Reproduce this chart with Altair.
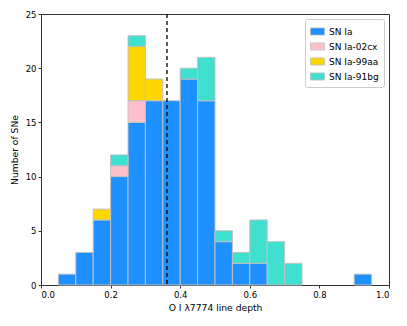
import altair as alt
import pandas as pd

bin_starts = [0.05, 0.10, 0.15, 0.20, 0.25, 0.30, 0.35, 0.40, 0.45, 0.50, 0.55, 0.60, 0.65, 0.70, 0.75, 0.80, 0.85, 0.90]
bin_width = 0.05
types = ["SN Ia", "SN Ia-02cx", "SN Ia-99aa", "SN Ia-91bg"]
colors = ["#1E90FF", "#FFC0CB", "#FFD700", "#40E0D0"]
counts_ia   = [1, 3, 6, 10, 15, 17, 17, 19, 17, 4, 2, 2, 0, 0, 0, 0, 0, 1]
counts_02cx = [0, 0, 0, 1, 2, 0, 0, 0, 0, 0, 0, 0, 0, 0, 0, 0, 0, 0]
counts_99aa = [0, 0, 1, 0, 5, 2, 0, 0, 0, 0, 0, 0, 0, 0, 0, 0, 0, 0]
counts_91bg = [0, 0, 0, 1, 1, 0, 0, 1, 4, 1, 1, 4, 4, 2, 0, 0, 0, 0]
median_depth = 0.362

rows = []
for t_i, (t, cnts) in enumerate(zip(types, [counts_ia, counts_02cx, counts_99aa, counts_91bg])):
    for s, c in zip(bin_starts, cnts):
        if c > 0:
            rows.append({"start": s, "end": round(s + bin_width, 3), "type": t, "count": c, "order": t_i})
df = pd.DataFrame(rows)

font = "DejaVu Sans"

bars = alt.Chart(df).transform_stack(
    stack="count", groupby=["start"], as_=["y0", "y1"],
    sort=[alt.SortField("order", order="ascending")],
).mark_bar(stroke="#c0c0c0", strokeWidth=1).encode(
    x=alt.X("start:Q", scale=alt.Scale(domain=[0, 1.0], nice=False),
            axis=alt.Axis(values=[0, 0.2, 0.4, 0.6, 0.8, 1.0], format=".1f",
                          title="O I λ7774 line depth", titlePadding=5)),
    x2="end:Q",
    y=alt.Y("y0:Q", scale=alt.Scale(domain=[0, 25], nice=False),
            axis=alt.Axis(values=[0, 5, 10, 15, 20, 25], title="Number of SNe", titlePadding=6)),
    y2="y1:Q",
    color=alt.Color("type:N", scale=alt.Scale(domain=types, range=colors),
                    legend=alt.Legend(title=None, orient="top-right",
                                      symbolType="M-1,-0.5L1,-0.5L1,0.5L-1,0.5Z",
                                      symbolSize=200, symbolStrokeColor="#c0c0c0", symbolStrokeWidth=0.8,
                                      fillColor="white", strokeColor="#cccccc", cornerRadius=2,
                                      padding=5, offset=5, labelFontSize=9, labelFont=font,
                                      rowPadding=2, labelColor="black")),
)

rule = alt.Chart(pd.DataFrame({"x": [median_depth]})).mark_rule(
    color="black", strokeDash=[4, 3], strokeWidth=1.3
).encode(x="x:Q")

chart = alt.layer(bars, rule).properties(
    width=348, height=271,
    autosize=alt.AutoSizeParams(type="none"),
    padding={"left": 33, "top": 6, "right": 2, "bottom": 32},
).configure_view(stroke="#333333", strokeWidth=1).configure_axis(
    labelFont=font, titleFont=font, labelFontSize=8.5, titleFontSize=9.2,
    titleFontWeight="normal", labelColor="black", titleColor="black",
    domainColor="#333333", tickColor="#333333", tickSize=3, grid=False,
    labelPadding=2,
)

chart.save("out.html", embed_options={"renderer": "svg", "actions": False})
